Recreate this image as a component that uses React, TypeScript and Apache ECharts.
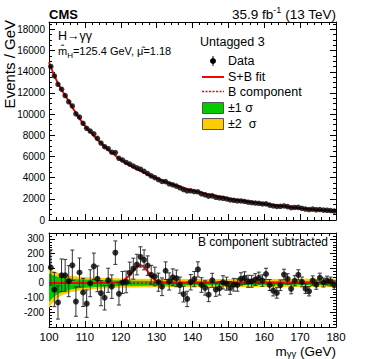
import React, { useEffect, useRef } from "react";
import * as echarts from "echarts";

const FONT = "'Liberation Sans', Arial, Helvetica, sans-serif";

// Bin centres (GeV)
const binCenters = [
  100.5, 101.5, 102.5, 103.5, 104.5, 105.5, 106.5, 107.5, 108.5, 109.5,
  110.5, 111.5, 112.5, 113.5, 114.5, 115.5, 116.5, 117.5, 118.5, 119.5,
  120.5, 121.5, 122.5, 123.5, 124.5, 125.5, 126.5, 127.5, 128.5, 129.5,
  130.5, 131.5, 132.5, 133.5, 134.5, 135.5, 136.5, 137.5, 138.5, 139.5,
  140.5, 141.5, 142.5, 143.5, 144.5, 145.5, 146.5, 147.5, 148.5, 149.5,
  150.5, 151.5, 152.5, 153.5, 154.5, 155.5, 156.5, 157.5, 158.5, 159.5,
  160.5, 161.5, 162.5, 163.5, 164.5, 165.5, 166.5, 167.5, 168.5, 169.5,
  170.5, 171.5, 172.5, 173.5, 174.5, 175.5, 176.5, 177.5, 178.5, 179.5,
];

// Data: events / GeV (upper panel)
const eventsPerGeV = [
  14505, 13605, 12817, 12352, 11752, 11162, 10770, 10023, 9721, 9135,
  8659, 8398, 8143, 7708, 7270, 6919, 6738, 6405, 6366, 5826,
  5663, 5437, 5279, 5097, 4925, 4797, 4597, 4388, 4165, 4004,
  3815, 3644, 3623, 3420, 3328, 3201, 3045, 2874, 2741, 2755,
  2686, 2662, 2476, 2376, 2250, 2278, 2145, 2083, 2054, 1985,
  1896, 1858, 1806, 1797, 1754, 1681, 1631, 1603, 1574, 1516,
  1521, 1406, 1328, 1277, 1294, 1327, 1262, 1160, 1185, 1190,
  1107, 1031, 983, 1026, 968, 990, 933, 921, 890, 840,
];

// Data minus B component (lower panel)
const residuals = [
  105, -45, -133, 52, 52, 12, 120, -127, 71, -65,
  -141, -2, 113, 28, -70, -101, 18, -25, 206, -74,
  3, 7, 69, 97, 125, 177, 157, 118, 55, 44,
  5, -26, 83, 10, 38, 31, -15, -76, -109, 5,
  26, 92, -14, -34, -80, 18, -45, -37, 4, -5,
  -34, -12, -14, 27, 34, 11, 11, 23, 34, 16,
  61, -14, -52, -68, -16, 57, 27, -40, 15, 55,
  7, -39, -57, 16, -12, 35, 3, 16, 10, -15,
];

// S+B fit (upper panel)
const fitMass = [100, 102.5, 105, 107.5, 110, 112.5, 115, 117.5, 120, 122.5, 125, 127.5, 130, 132.5, 135, 137.5, 140, 145, 150, 155, 160, 165, 170, 175, 180];
const fitSB = [14900, 12900, 11500, 10100, 8900, 7950, 7100, 6350, 5700, 5150, 4720, 4300, 3930, 3600, 3310, 3040, 2800, 2400, 2040, 1770, 1530, 1310, 1110, 960, 830];

// S+B fit minus B component (lower panel)
const sbMass = [100, 117, 118, 119, 120, 120.5, 121, 121.5, 122, 122.5, 123, 123.5, 124, 124.5, 125, 125.5, 126, 126.5, 127, 127.5, 128, 128.5, 129, 129.5, 130, 131, 132, 133, 180];
const sbResid = [0, 0, 1, 4, 10, 15, 22, 31, 42, 54, 68, 82, 96, 108, 117, 121, 118, 109, 95, 79, 62, 46, 32, 21, 13, 5, 1, 0, 0];

// Uncertainty bands of the background fit
const bandMass = [100, 101, 102, 103, 104, 106, 108, 110, 113, 116, 120, 125, 130, 140, 150, 160, 170, 180];
const twoSigmaUp = [100, 85, 72, 63, 56, 48, 43, 40, 36, 33, 30, 29, 28, 27, 27, 27, 28, 29];
const twoSigmaDown = [-170, -135, -110, -92, -80, -64, -54, -48, -42, -37, -33, -31, -29, -28, -27, -27, -28, -29];
const oneSigmaUp = [65, 54, 45, 39, 34, 29, 25, 23, 20, 18, 16, 15, 14, 14, 13, 13, 14, 14];
const oneSigmaDown = [-130, -102, -82, -68, -58, -45, -37, -32, -27, -24, -21, -19, -17, -15, -14, -14, -14, -15];

const xTickLabels = ["100", "110", "120", "130", "140", "150", "160", "170", "180"];

function frameAxis(gridIndex: number, min: number, max: number, interval: number, minorSplit: number, position: string, label: any) {
  return {
    type: "value",
    gridIndex,
    min,
    max,
    interval,
    position,
    axisLine: { show: true, onZero: false, lineStyle: { color: "#000", width: 1 } },
    axisTick: { show: true, inside: true, length: 6, lineStyle: { color: "#000", width: 1 } },
    minorTick: { show: true, splitNumber: minorSplit, length: 3, lineStyle: { color: "#000", width: 1 } },
    splitLine: { show: false },
    minorSplitLine: { show: false },
    axisLabel: label ? label : { show: false },
  };
}

function errorBars(xAxisIndex: number, yAxisIndex: number, data: number[][], cap: number) {
  return {
    type: "custom",
    xAxisIndex,
    yAxisIndex,
    z: 3,
    silent: true,
    clip: true,
    data,
    encode: { x: 0, y: 1 },
    renderItem: (_params: any, api: any) => {
      const x = api.value(0);
      const y = api.value(1);
      const e = api.value(2);
      const p1 = api.coord([x, y + e]);
      const p2 = api.coord([x, y - e]);
      const st = { stroke: "#333", lineWidth: 1 };
      const children: any[] = [
        { type: "line", shape: { x1: p1[0], y1: p1[1], x2: p2[0], y2: p2[1] }, style: st },
      ];
      if (cap > 0) {
        children.push({ type: "line", shape: { x1: p1[0] - cap, y1: p1[1], x2: p1[0] + cap, y2: p1[1] }, style: st });
        children.push({ type: "line", shape: { x1: p2[0] - cap, y1: p2[1], x2: p2[0] + cap, y2: p2[1] }, style: st });
      }
      return { type: "group", children };
    },
  };
}

function band(upper: number[], lower: number[], color: string, z: number) {
  return {
    type: "custom",
    xAxisIndex: 2,
    yAxisIndex: 2,
    z,
    silent: true,
    clip: true,
    data: [[bandMass[0], 0]],
    encode: { x: 0, y: 1 },
    renderItem: (_params: any, api: any) => {
      const pts: number[][] = [];
      for (let i = 0; i < bandMass.length; i++) pts.push(api.coord([bandMass[i], upper[i]]));
      for (let i = bandMass.length - 1; i >= 0; i--) pts.push(api.coord([bandMass[i], lower[i]]));
      return { type: "polygon", shape: { points: pts }, style: { fill: color } };
    },
  };
}

export default function App() {
  const ref = useRef<HTMLDivElement>(null);
  useEffect(() => {
    const chart = echarts.init(ref.current!, null, { renderer: "svg" });
    const topPts = binCenters.map((m, i) => [m, eventsPerGeV[i]]);
    const topErr = binCenters.map((m, i) => [m, eventsPerGeV[i], Math.sqrt(eventsPerGeV[i])]);
    const botPts = binCenters.map((m, i) => [m, residuals[i]]);
    const botErr = binCenters.map((m, i) => [m, residuals[i], Math.sqrt(eventsPerGeV[i])]);

    const yLabelTop = { show: true, fontSize: 10, color: "#000", fontFamily: FONT, margin: 4, showMaxLabel: false, formatter: (v: number) => String(v) };
    const yLabelBot = { show: true, fontSize: 10, color: "#000", fontFamily: FONT, margin: 5, showMaxLabel: false, showMinLabel: false, formatter: (v: number) => String(v) };
    const xLabelBot = {
      show: true, fontSize: 11.5, color: "#000", fontFamily: FONT, margin: 4,
      formatter: (v: number) => (xTickLabels.indexOf(String(v)) >= 0 ? String(v) : ""),
    };

    const option: any = {
      animation: false,
      backgroundColor: "#fff",
      grid: [
        { left: 49, top: 22, width: 287, height: 198 },
        { left: 49, top: 233, width: 287, height: 94 },
      ],
      xAxis: [
        frameAxis(0, 100, 180, 10, 5, "bottom", null),
        frameAxis(0, 100, 180, 10, 5, "top", null),
        frameAxis(1, 100, 180, 10, 5, "bottom", xLabelBot),
        frameAxis(1, 100, 180, 10, 5, "top", null),
      ],
      yAxis: [
        frameAxis(0, 0, 18700, 2000, 4, "left", yLabelTop),
        frameAxis(0, 0, 18700, 2000, 4, "right", null),
        frameAxis(1, -300, 340, 100, 5, "left", yLabelBot),
        frameAxis(1, -300, 340, 100, 5, "right", null),
      ],
      series: [
        {
          type: "line", xAxisIndex: 0, yAxisIndex: 0, z: 2, smooth: true, symbol: "none", silent: true,
          lineStyle: { color: "#ff0000", width: 2 },
          data: fitMass.map((m, i) => [m, fitSB[i]]),
        },
        errorBars(0, 0, topErr, 0),
        {
          type: "scatter", xAxisIndex: 0, yAxisIndex: 0, z: 4, symbol: "circle", symbolSize: 5.5, silent: true,
          itemStyle: { color: "#000" }, data: topPts,
        },
        band(twoSigmaUp, twoSigmaDown, "#ffcc00", 1),
        band(oneSigmaUp, oneSigmaDown, "#00cc00", 1),
        {
          type: "line", xAxisIndex: 2, yAxisIndex: 2, z: 2, symbol: "none", silent: true,
          lineStyle: { color: "#ff0000", width: 2, type: [2, 2] },
          data: [[100, 0], [180, 0]],
        },
        {
          type: "line", xAxisIndex: 2, yAxisIndex: 2, z: 2, smooth: true, symbol: "none", silent: true,
          lineStyle: { color: "#ff0000", width: 2 },
          data: sbMass.map((m, i) => [m, sbResid[i]]),
        },
        errorBars(2, 2, botErr, 2),
        {
          type: "scatter", xAxisIndex: 2, yAxisIndex: 2, z: 4, symbol: "circle", symbolSize: 6, silent: true,
          itemStyle: { color: "#000" }, data: botPts,
        },
      ],
      graphic: [
        { type: "text", x: 49, y: 14, style: { text: "CMS", font: `bold 13px ${FONT}`, fill: "#000", align: "left", verticalAlign: "middle" } },
        {
          type: "text", x: 336, y: 14,
          style: {
            text: "{n|35.9 fb}{sup|-1}{n| (13 TeV)}", align: "right", verticalAlign: "middle", fill: "#000",
            rich: {
              n: { fontSize: 13.5, fontFamily: FONT, lineHeight: 18, verticalAlign: "middle" },
              sup: { fontSize: 9, fontFamily: FONT, lineHeight: 9, verticalAlign: "top" },
            },
          },
        },
        {
          type: "text", x: 9, y: 20, rotation: Math.PI / 2,
          style: { text: "Events / GeV", font: `15px ${FONT}`, fill: "#000", align: "right", verticalAlign: "middle" },
        },
        { type: "text", x: 58, y: 36, style: { text: "H\u2192\u03b3\u03b3", font: `12.5px ${FONT}`, fill: "#000", align: "left", verticalAlign: "middle" } },
        {
          type: "text", x: 58, y: 51,
          style: {
            text: "{n|m\u0302}{sub|H}{n|=125.4 GeV, \u03bc\u0302=1.18}", align: "left", verticalAlign: "middle", fill: "#000",
            rich: {
              n: { fontSize: 11, fontFamily: FONT, lineHeight: 16, verticalAlign: "middle" },
              sub: { fontSize: 8, fontFamily: FONT, lineHeight: 8, verticalAlign: "bottom" },
            },
          },
        },
        { type: "text", x: 200, y: 42, style: { text: "Untagged 3", font: `12.5px ${FONT}`, fill: "#000", align: "left", verticalAlign: "middle" } },
        { type: "line", shape: { x1: 213, y1: 56, x2: 213, y2: 66 }, style: { stroke: "#000", lineWidth: 1 } },
        { type: "circle", shape: { cx: 213, cy: 61, r: 3 }, style: { fill: "#000" } },
        { type: "text", x: 228, y: 61, style: { text: "Data", font: `12.5px ${FONT}`, fill: "#000", align: "left", verticalAlign: "middle" } },
        { type: "line", shape: { x1: 202, y1: 77, x2: 224, y2: 77 }, style: { stroke: "#ff0000", lineWidth: 2 } },
        { type: "text", x: 228, y: 77, style: { text: "S+B fit", font: `12.5px ${FONT}`, fill: "#000", align: "left", verticalAlign: "middle" } },
        { type: "line", shape: { x1: 202, y1: 91.5, x2: 224, y2: 91.5 }, style: { stroke: "#ff0000", lineWidth: 1.5, lineDash: [2, 1.5] } },
        { type: "text", x: 228, y: 91.5, style: { text: "B component", font: `12.5px ${FONT}`, fill: "#000", align: "left", verticalAlign: "middle" } },
        { type: "rect", shape: { x: 202.5, y: 102.5, width: 21, height: 11 }, style: { fill: "#00cc00", stroke: "#555", lineWidth: 1 } },
        { type: "text", x: 228, y: 108, style: { text: "\u00b11 \u03c3", font: `12.5px ${FONT}`, fill: "#000", align: "left", verticalAlign: "middle" } },
        { type: "rect", shape: { x: 202.5, y: 118.5, width: 21, height: 11 }, style: { fill: "#ffcc00", stroke: "#555", lineWidth: 1 } },
        { type: "text", x: 228, y: 124, style: { text: "\u00b12  \u03c3", font: `12.5px ${FONT}`, fill: "#000", align: "left", verticalAlign: "middle" } },
        { type: "text", x: 328, y: 242, z: 10, style: { text: "B component subtracted", font: `12px ${FONT}`, fill: "#000", align: "right", verticalAlign: "middle" } },
        {
          type: "text", x: 336, y: 351,
          style: {
            text: "{n|m}{sub|\u03b3\u03b3}{n| (GeV)}", align: "right", verticalAlign: "middle", fill: "#000",
            rich: {
              n: { fontSize: 13.5, fontFamily: FONT, lineHeight: 14, verticalAlign: "middle" },
              sub: { fontSize: 9.5, fontFamily: FONT, lineHeight: 9, verticalAlign: "bottom" },
            },
          },
        },
      ],
    };
    chart.setOption(option);
    return () => chart.dispose();
  }, []);
  return <div ref={ref} style={{ position: "fixed", left: 0, top: 0, width: 374, height: 359 }} />;
}
